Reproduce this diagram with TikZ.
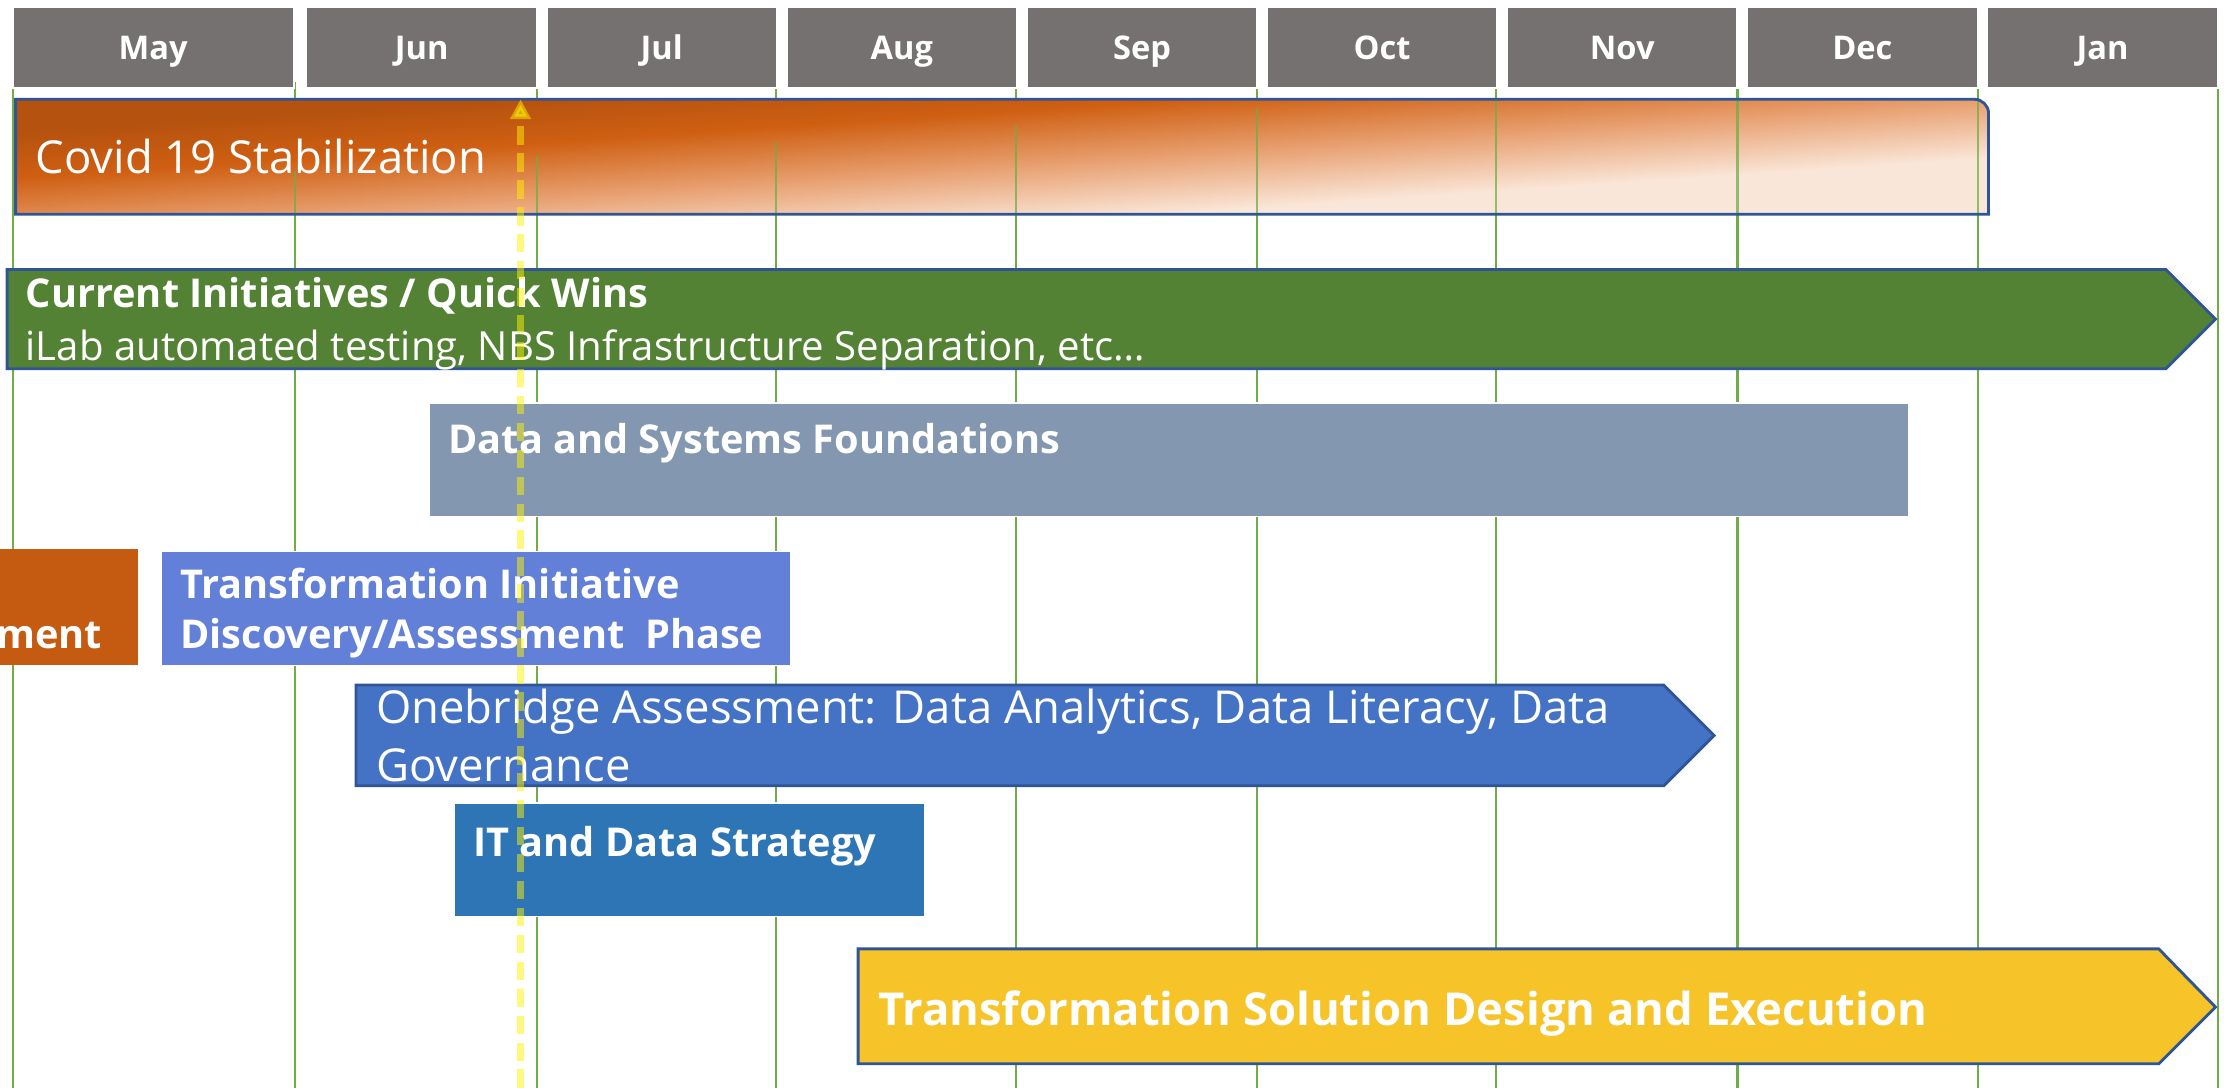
\documentclass[tikz,border=0pt]{standalone}
\usepackage{fontspec}
\setmainfont{Open Sans}
\usetikzlibrary{arrows.meta,positioning}
\definecolor{headgray}{HTML}{767171}
\definecolor{gridgreen}{HTML}{70AD47}
\definecolor{barblue}{HTML}{2F5597}
\definecolor{quickgreen}{HTML}{548235}
\definecolor{datagray}{HTML}{8497B0}
\definecolor{prevorange}{HTML}{C55A11}
\definecolor{discblue}{HTML}{6380D8}
\definecolor{onebridgeblue}{HTML}{4472C4}
\definecolor{itblue}{HTML}{2E75B6}
\definecolor{solutiongold}{HTML}{F6C328}
\definecolor{coviddark}{HTML}{B5520F}
\definecolor{covidorange}{HTML}{CF5F12}
\definecolor{covidlight}{HTML}{E69A68}
\definecolor{covidpeach}{HTML}{FAE6D8}
\pgfdeclareverticalshading{covidshade}{100bp}{color(0bp)=(covidpeach); color(38bp)=(covidpeach); color(49bp)=(covidlight); color(58bp)=(covidorange); color(66bp)=(coviddark); color(100bp)=(coviddark)}
\def\covidshape{(11,151) -- (11,70) -- (1392,70) .. controls (1397.5,70) and (1402,74.5) .. (1402,80) -- (1402,151) -- cycle}
\begin{document}
\begin{tikzpicture}[x=1pt, y=-1pt,
  month/.style = {draw=white, line width=1.5, fill=headgray, text=white, outer sep=0, inner sep=0, minimum width=162.5, minimum height=57, text height=16.5pt, text depth=0pt, font=\fontsize{23}{27}\selectfont\bfseries},
  gridline/.style = {draw=gridgreen, line width=1.5},
  phase/.style = {draw=barblue, line width=2},
  block/.style = {draw=white, line width=1, inner sep=0, outer sep=0, anchor=north west},
  boldtext/.style = {text=white, inner sep=0, anchor=base west, font=\fontsize{28}{35}\selectfont\bfseries},
  thintext/.style = {text=white, inner sep=0, anchor=base west, font=\fontsize{32}{41}\selectfont},
  nowline/.style = {draw=yellow, opacity=0.5, line width=4.5, dash pattern=on 13pt off 6pt, -{Triangle[length=14pt, width=14pt]}}]
\useasboundingbox[fill=white] (0,0) rectangle (1568,767);

\foreach \gx/\gtop in {9/34, 208/58, 378.5/58, 547/58, 716/58, 886/58, 1055/58, 1225/58, 1394.5/58, 1563.5/58}
  \draw[gridline] (\gx,\gtop) -- (\gx,767);

\node[month, minimum width=198, anchor=north west] (may) at (9,5) {May};
\node[month] (jun) [right=9pt of may] {Jun};
\node[month] (jul) [right=6.8pt of jun] {Jul};
\node[month] (aug) [right=6.8pt of jul] {Aug};
\node[month] (sep) [right=6.8pt of aug] {Sep};
\node[month] (oct) [right=6.8pt of sep] {Oct};
\node[month] (nov) [right=6.8pt of oct] {Nov};
\node[month] (dec) [right=6.8pt of nov] {Dec};
\node[month] (jan) [right=6.8pt of dec] {Jan};

\begin{scope}
  \clip \covidshape;
  \begin{scope}[transform canvas={rotate around={3.86:(706.5,110.5)}}]
    \shade[shading=covidshade] (-60,10.5) rectangle (1470,210.5);
  \end{scope}
  \foreach \gx/\gtop in {208/121, 378.5/110, 547/100, 716/88, 886/76, 1055/70, 1225/70, 1394.5/70}
    \draw[gridline, opacity=0.75] (\gx,\gtop) -- (\gx,151);
\end{scope}
\draw[phase] \covidshape;
\node[thintext] (covid) at (25,122) {Covid 19 Stabilization};

\draw[phase, fill=quickgreen] (5,190) -- (1527,190) -- (1562,225) -- (1527,260) -- (5,260) -- cycle;
\node[boldtext] (quickwins) at (18,217) {Current Initiatives / Quick Wins};
\node[thintext, font=\fontsize{28.3}{35}\selectfont] (quickwinsnote) at (18,254) {iLab automated testing, NBS Infrastructure Separation, etc…};

\node[block, fill=datagray, minimum width=1043, minimum height=80] (datasys) at (303,284) {};
\node[boldtext] (datasystext) at (316,320) {Data and Systems Foundations};

\node[block, fill=prevorange, draw=none, minimum width=102, minimum height=82] (prev) at (-5,387) {};
\node[boldtext] (prevtext) [anchor=base east] at (72,457) {ment};

\node[block, fill=discblue, minimum width=444, minimum height=80] (disc) at (113.5,389) {};
\node[boldtext] (disctop) at (127,422) {Transformation Initiative};
\node[boldtext] (discbottom) at (127,457) {Discovery/Assessment\ \ Phase};

\draw[phase, fill=onebridgeblue] (251,483) -- (1173,483) -- (1208.5,518.5) -- (1173,554) -- (251,554) -- cycle;
\node[thintext] (onebridgetop) at (265,510) {Onebridge Assessment: Data Analytics, Data Literacy, Data};
\node[thintext] (onebridgebottom) at (265,551) {Governance};

\node[block, fill=itblue, minimum width=332, minimum height=80] (strategy) at (320,566) {};
\node[boldtext] (strategytext) at (333.5,604) {IT and Data Strategy};

\draw[phase, fill=solutiongold] (605,669) -- (1522,669) -- (1562,710) -- (1522,750) -- (605,750) -- cycle;
\node[boldtext, font=\fontsize{32}{40}\selectfont\bfseries] (solution) at (619,723) {Transformation Solution Design and Execution};

\coordinate (nowbottom) at (367,767);
\coordinate (nowtop) at (367,70);
\draw[nowline] (nowbottom) -- (nowtop);

\end{tikzpicture}
\end{document}
